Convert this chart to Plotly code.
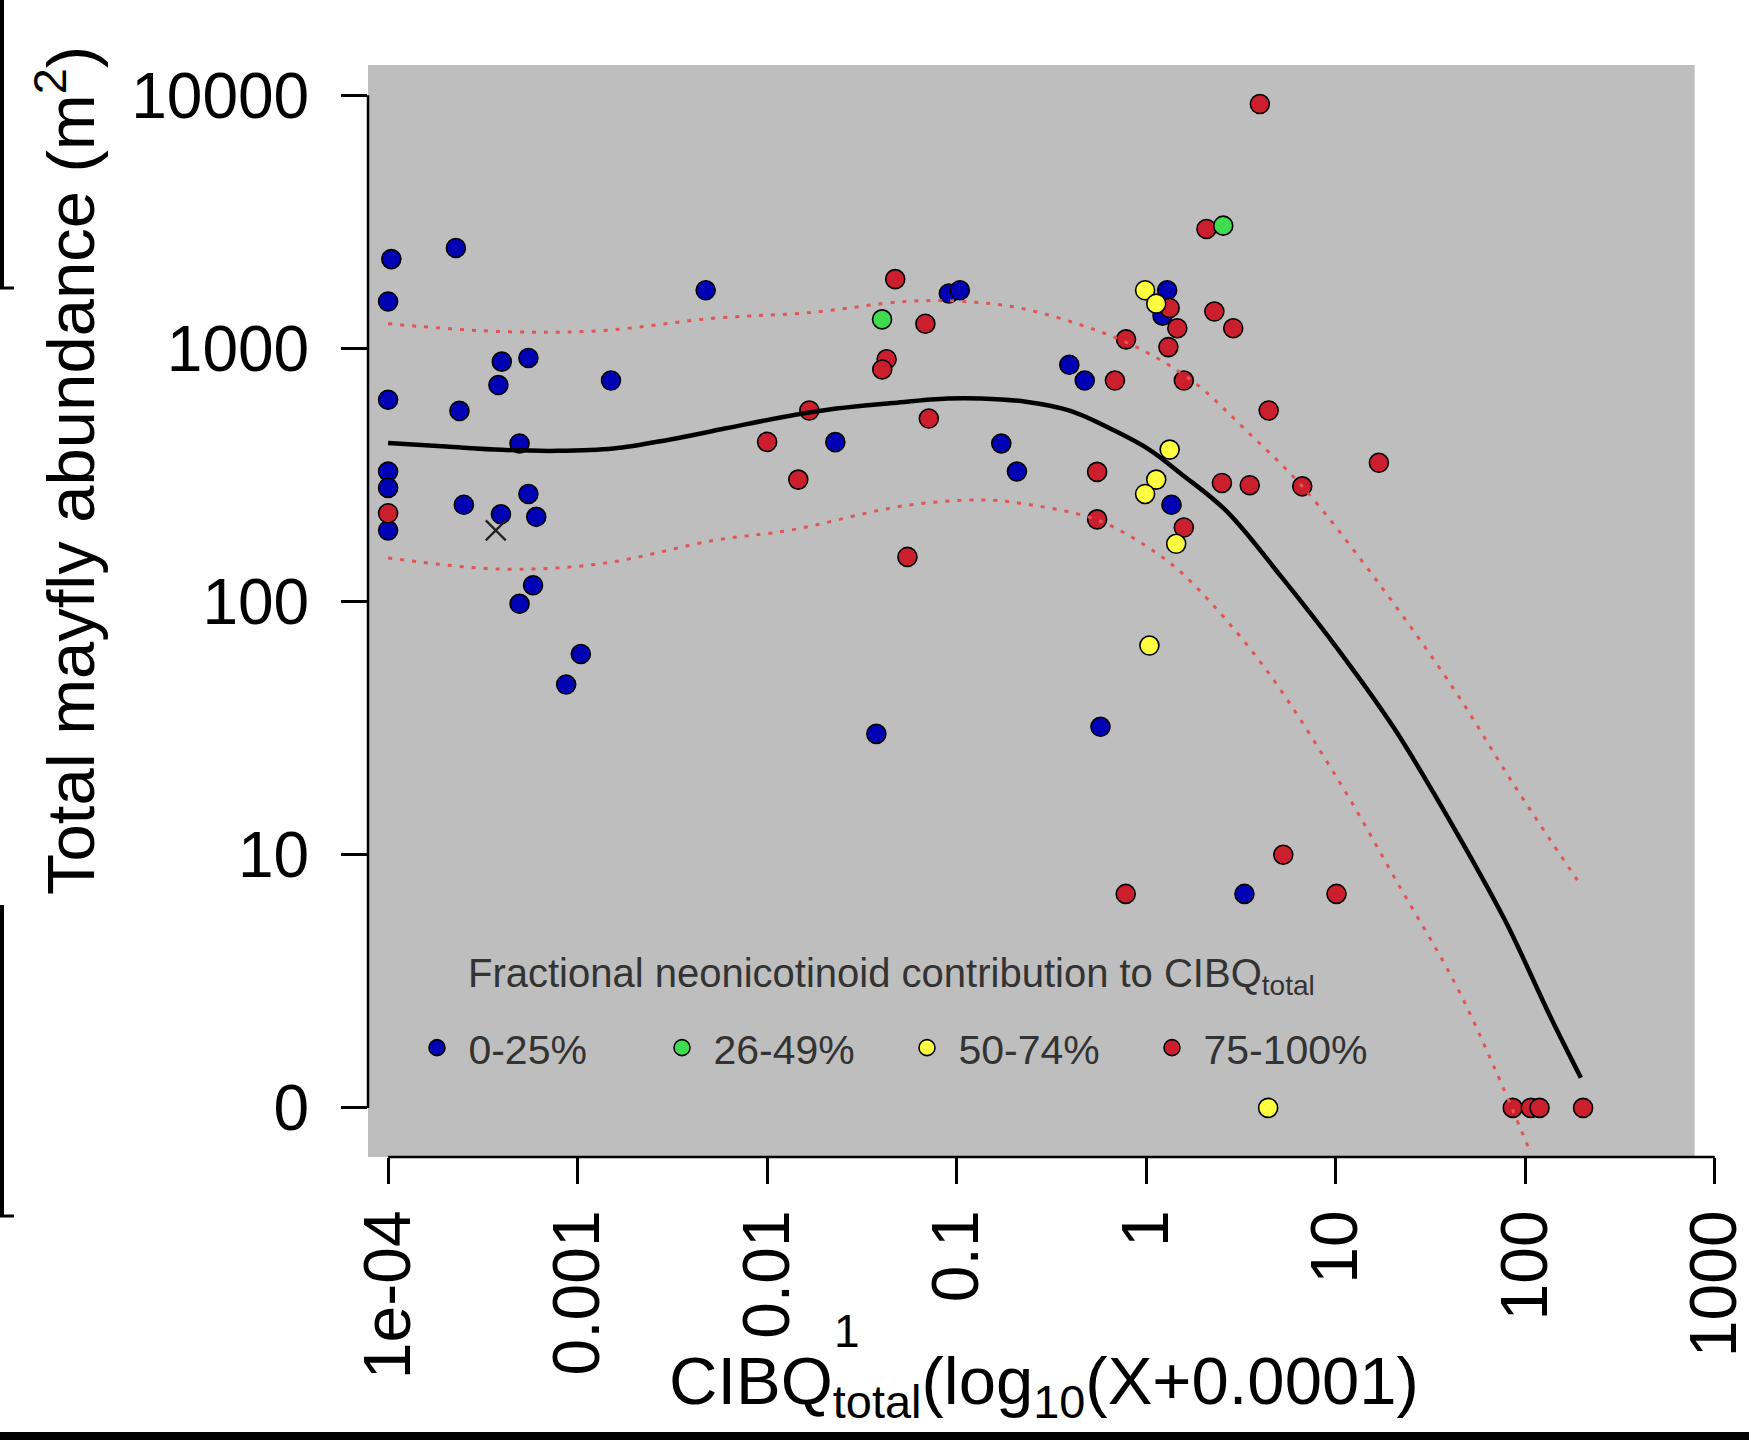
import numpy as np
import plotly.graph_objects as go

# ---------------- data ----------------
# CIBQ_total (X) and total mayfly abundance per group
blue_cibq = [0.000004, 0, 0, 0, 0, 0, 0.000128, 0.000138, 0.000151, 0.000298, 0.000282,
             0.00045, 0.000394, 0.00045, 0.000505, 0.000294, 0.000482, 0.000394, 0.00077,
             0.00094, 0.0014, 0.00464, 0.0228, 0.0376, 0.0909, 0.1039, 0.1719, 0.2079,
             0.3929, 0.4739, 0.5739, 1.29, 1.22, 1.36, 3.3]
blue_abund = [2250, 1530, 625, 325, 280, 190, 2490, 565, 240, 885, 715, 915, 420, 265, 215,
              220, 115, 97, 46, 61, 745, 1695, 425, 29, 1645, 1695, 420, 325, 860, 745, 31,
              1695, 1345, 240, 6]

green_cibq = [0.0403, 2.55]
green_abund = [1300, 3050]

yellow_cibq = [0.987, 1.13, 1.33, 1.13, 0.987, 1.44, 1.04, 4.4]
yellow_abund = [1695, 1500, 397, 302, 265, 168, 66, 0]

red_cibq = [0, 0.0473, 0.0683, 0.0426, 0.0404, 0.0166, 0.0099, 0.0145, 0.0712, 0.0549,
            0.783, 0.684, 0.551, 0.551, 0.78, 3.98, 2.08, 2.29, 2.88, 1.33, 1.46, 1.31,
            1.58, 4.43, 16.9, 2.51, 3.52, 6.66, 1.58, 5.29, 10.1, 86, 107, 119, 202]
red_abund = [222, 1875, 1250, 904, 824, 567, 426, 302, 527, 149, 1084, 745, 324, 210, 6,
             9220, 2960, 1397, 1200, 1442, 1200, 1010, 745, 567, 352, 293, 287, 284, 195,
             9, 6, 0, 0, 0, 0]

cross_cibq = [0.00027]
cross_abund = [190]

# fitted curve and confidence band, log10(X+0.0001) vs log10(Y+1)
fit_lx = [-4.0, -3.694, -3.4, -3.106, -2.812, -2.518, -2.224, -1.929, -1.635, -1.341,
          -1.047, -0.871, -0.635, -0.4, -0.165, 0.018, 0.188, 0.424, 0.718, 1.012,
          1.306, 1.6, 1.894, 2.129, 2.294]
fit_ly = [2.626, 2.612, 2.599, 2.595, 2.604, 2.639, 2.683, 2.727, 2.762, 2.784, 2.802,
          2.802, 2.789, 2.753, 2.674, 2.599, 2.502, 2.357, 2.093, 1.811, 1.502, 1.137,
          0.740, 0.366, 0.119]
upper_lx = [-4.0, -3.4, -2.871, -2.282, -1.776, -1.271, -0.965, -0.665, -0.259, 0.018,
            0.265, 0.524, 0.824, 1.229, 1.629, 1.935, 2.288]
upper_ly = [3.097, 3.066, 3.070, 3.119, 3.141, 3.185, 3.185, 3.159, 3.070, 2.978, 2.859,
            2.678, 2.454, 2.070, 1.648, 1.282, 0.885]
lower_lx = [-4.0, -3.4, -2.871, -2.276, -1.876, -1.271, -0.865, -0.665, -0.259, 0.059,
            0.247, 0.624, 1.024, 1.329, 1.629, 1.835, 2.03]
lower_ly = [2.172, 2.128, 2.150, 2.242, 2.282, 2.379, 2.401, 2.388, 2.322, 2.189, 2.070,
            1.740, 1.282, 0.885, 0.493, 0.163, -0.18]

x_tickvals = [1e-4, 1e-3, 1e-2, 1e-1, 1, 10, 100, 1000]
x_ticktext = ["1e-04", "0.001", "0.01", "0.1", "1", "10", "100", "1000"]
y_tickvals = [1, 10, 100, 1000, 10000]
y_ticktext = ["0", "10", "100", "1000", "10000"]

legend_labels = ["0-25%", "26-49%", "50-74%", "75-100%"]
legend_title = "Fractional neonicotinoid contribution to CIBQ<sub>total</sub>"

# ---------------- layout geometry ----------------
W, H = 1749, 1440
ML, MR, MT, MB = 368, 32, 65, 283
PW, PH = W - ML - MR, H - MT - MB
X_RANGE = [-4.106, 3.012]
Y_RANGE = [-0.194, 4.119]
PANEL_XMAX = 2.894  # log10 end of grey panel


def px_x(p):
    return (p - ML) / PW


def px_y(p):
    return (H - MB - p) / PH


def lx_frac(v):
    return (v - X_RANGE[0]) / (X_RANGE[1] - X_RANGE[0])


def ly_frac(v):
    return (v - Y_RANGE[0]) / (Y_RANGE[1] - Y_RANGE[0])


def xplot(vals):
    return [v + 0.0001 for v in vals]


def yplot(vals):
    return [v + 1 for v in vals]


FONT = "Liberation Sans, Arial, sans-serif"
fig = go.Figure()

groups = [
    (legend_labels[0], blue_cibq, blue_abund, "#0000b4", 1),
    (legend_labels[3], red_cibq, red_abund, "#cc1f2e", 4),
    (legend_labels[1], green_cibq, green_abund, "#40dc50", 2),
    (legend_labels[2], yellow_cibq, yellow_abund, "#ffff40", 3),
]
for name, xs, ys, col, rank in groups:
    fig.add_trace(go.Scatter(
        x=xplot(xs), y=yplot(ys), mode="markers", name="\u00a0" + name,
        legendrank=rank,
        marker=dict(size=19, color=col, line=dict(color="black", width=1.6)),
    ))

fig.add_trace(go.Scatter(
    x=xplot(cross_cibq), y=yplot(cross_abund), mode="markers", showlegend=False,
    marker=dict(symbol="x-thin-open", size=20, color="#222",
                line=dict(color="#222", width=2.2)),
))

ci_line = dict(color="#e05656", width=3, dash="4px,8px", shape="spline")
fig.add_trace(go.Scatter(x=[10 ** v for v in upper_lx], y=[10 ** v for v in upper_ly],
                         mode="lines", line=ci_line, showlegend=False))
fig.add_trace(go.Scatter(x=[10 ** v for v in lower_lx], y=[10 ** v for v in lower_ly],
                         mode="lines", line=ci_line, showlegend=False))
fig.add_trace(go.Scatter(x=[10 ** v for v in fit_lx], y=[10 ** v for v in fit_ly],
                         mode="lines", line=dict(color="black", width=4.5, shape="spline"),
                         showlegend=False))

shapes = [
    # grey panel
    dict(type="rect", xref="paper", yref="paper", x0=0, x1=lx_frac(PANEL_XMAX), y0=0, y1=1,
         fillcolor="#bebebe", line=dict(width=0), layer="below"),
    # x axis line (first to last tick)
    dict(type="line", xref="paper", yref="paper",
         x0=lx_frac(np.log10(x_tickvals[0])), x1=lx_frac(np.log10(x_tickvals[-1])),
         y0=0, y1=0, line=dict(color="black", width=2.5)),
    # y axis line (first to last tick)
    dict(type="line", xref="paper", yref="paper", x0=0, x1=0,
         y0=ly_frac(np.log10(y_tickvals[0])), y1=ly_frac(np.log10(y_tickvals[-1])),
         line=dict(color="black", width=2.5)),
    # crop borders of the source image
    dict(type="rect", xref="paper", yref="paper", x0=px_x(0), x1=px_x(4),
         y0=px_y(287), y1=px_y(0), fillcolor="black", line=dict(width=0)),
    dict(type="line", xref="paper", yref="paper", x0=px_x(0), x1=px_x(14),
         y0=px_y(288), y1=px_y(288), line=dict(color="black", width=3)),
    dict(type="rect", xref="paper", yref="paper", x0=px_x(0), x1=px_x(4),
         y0=px_y(1216), y1=px_y(905), fillcolor="black", line=dict(width=0)),
    dict(type="line", xref="paper", yref="paper", x0=px_x(0), x1=px_x(14),
         y0=px_y(1216), y1=px_y(1216), line=dict(color="black", width=3)),
    dict(type="rect", xref="paper", yref="paper", x0=px_x(0), x1=px_x(W),
         y0=px_y(H), y1=px_y(1432), fillcolor="black", line=dict(width=0)),
]

annotations = [
    dict(text="Total mayfly abundance (m<sup>2</sup>)", xref="paper", yref="paper",
         x=px_x(66), y=px_y(471), xanchor="center", yanchor="middle", textangle=-90,
         showarrow=False, font=dict(size=67, color="black", family=FONT)),
    dict(text="CIBQ<sub>total</sub>(log<sub>10</sub>(X+0.0001)", xref="paper", yref="paper",
         x=px_x(667), y=px_y(1385), xanchor="left", yanchor="middle",
         showarrow=False, font=dict(size=67, color="black", family=FONT)),
    dict(text="1", xref="paper", yref="paper",
         x=px_x(832), y=px_y(1331), xanchor="left", yanchor="middle",
         showarrow=False, font=dict(size=46, color="black", family=FONT)),
    dict(text=legend_title, xref="paper", yref="paper",
         x=px_x(466), y=px_y(976), xanchor="left", yanchor="middle",
         showarrow=False, font=dict(size=40, color="#333333", family=FONT)),
]

fig.update_layout(
    width=W, height=H,
    margin=dict(l=ML, r=MR, t=MT, b=MB, autoexpand=False),
    paper_bgcolor="white", plot_bgcolor="white",
    font=dict(family=FONT, color="black"),
    shapes=shapes, annotations=annotations,
    legend=dict(orientation="h", x=px_x(417), xanchor="left", y=px_y(1048),
                yanchor="middle", font=dict(size=41, color="#333333", family=FONT),
                bgcolor="rgba(0,0,0,0)", entrywidth=200, entrywidthmode="pixels",
                itemsizing="trace", traceorder="normal"),
    xaxis=dict(type="log", range=X_RANGE, tickmode="array", tickvals=x_tickvals,
               ticktext=x_ticktext, tickangle=-90, ticks="outside", ticklen=26,
               tickwidth=2.5, tickcolor="black", showline=False, showgrid=False,
               zeroline=False, tickfont=dict(size=66, color="black", family=FONT),
               ticklabelstandoff=0, ticklabeloverflow="allow"),
    yaxis=dict(type="log", range=Y_RANGE, tickmode="array", tickvals=y_tickvals,
               ticktext=y_ticktext, ticks="outside", ticklen=26, tickwidth=2.5,
               tickcolor="black", showline=False, showgrid=False, zeroline=False,
               tickfont=dict(size=64, color="black", family=FONT),
               ticklabelstandoff=19, ticklabeloverflow="allow"),
)

fig.write_html("out.html")
